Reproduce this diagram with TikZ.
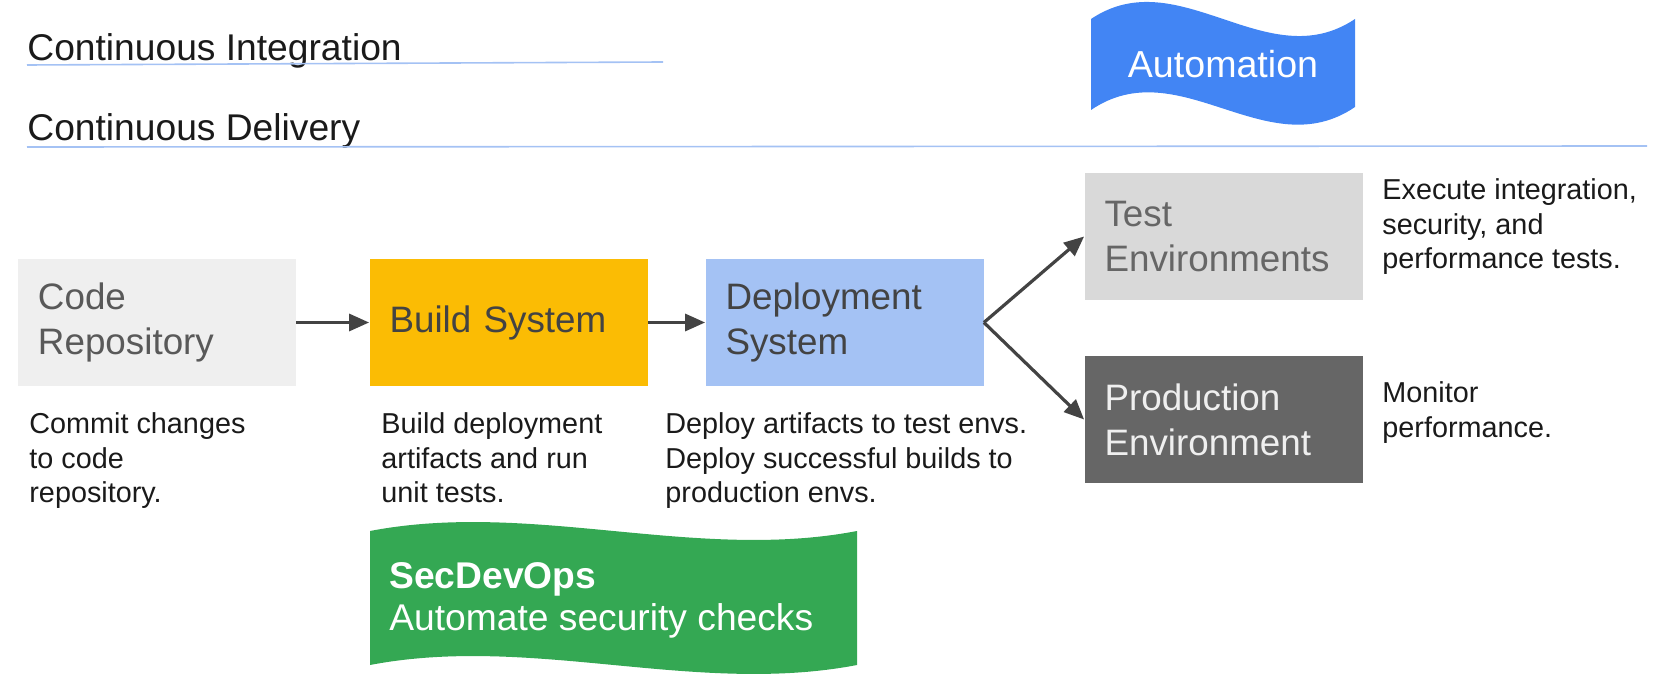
\documentclass[tikz,border=0pt]{standalone}
\usepackage{fontspec}
\setmainfont{Liberation Sans}
\usetikzlibrary{arrows.meta}

\definecolor{ruleblue}{HTML}{A4C2F4}
\definecolor{codegray}{HTML}{EFEFEF}
\definecolor{buildyellow}{HTML}{FBBC04}
\definecolor{deployblue}{HTML}{A4C2F4}
\definecolor{testgray}{HTML}{D9D9D9}
\definecolor{prodgray}{HTML}{666666}
\definecolor{autoblue}{HTML}{4285F4}
\definecolor{secgreen}{HTML}{34A853}
\definecolor{arrowgray}{HTML}{434343}
\definecolor{labelgray}{HTML}{595959}
\definecolor{inkblack}{HTML}{1A1A1A}

\tikzset{
  stage/.style = {rectangle, minimum width=139pt, minimum height=63.5pt, text width=119pt,
    inner xsep=10pt, align=left, font=\fontsize{18.4}{22.5}\selectfont},
  note/.style = {anchor=north west, inner sep=0pt, align=left, text=inkblack,
    font=\fontsize{14.4}{17.4}\selectfont},
  heading/.style = {anchor=base west, inner sep=0pt, text=inkblack, font=\fontsize{18.6}{22}\selectfont},
  flow/.style = {draw=arrowgray, line width=1.6pt, -{Triangle[length=10pt,width=8.5pt]}},
}

\begin{document}
\begin{tikzpicture}[x=0.5pt, y=-0.5pt]
    \useasboundingbox (0,0) rectangle (1677,679);

    % Headings
    \node[heading] (ci) at (27,61) {Continuous Integration};
    \node[heading] (cd) at (27,141) {Continuous Delivery};
    \draw[ruleblue, line width=0.8pt] (27,65) -- (663,62);
    \draw[ruleblue, line width=0.8pt] (27,147) -- (1647,146);

    % Banners
    \fill[autoblue] (1091,19) .. controls (1179,-40) and (1267,78) .. (1355,19)
        -- (1355,107) .. controls (1267,167) and (1179,50) .. (1091,110) -- cycle;
    \node[text=white, font=\fontsize{18.8}{22}\selectfont] (auto) at (1223,64) {Automation};

    \fill[secgreen] (370,531) .. controls (532,500) and (695,562) .. (857,531)
        -- (857,665) .. controls (695,696) and (532,634) .. (370,665) -- cycle;
    \node[anchor=north west, inner sep=0pt, align=left, text=white,
        font=\fontsize{18.6}{21}\selectfont] (sec) at (389,562)
        {\textbf{SecDevOps}\\Automate security checks};

    % Stages
    \node[stage, fill=codegray, text=labelgray] (code) at (157,322.5) {Code\\Repository};
    \node[stage, fill=buildyellow, text=arrowgray] (build) at (508.5,322.5) {Build System};
    \node[stage, fill=deployblue, text=arrowgray] (deploy) at (844.5,322.5) {Deployment\\System};
    \node[stage, fill=testgray, text=prodgray] (test) at (1223.5,236.5) {Test\\Environments};
    \node[stage, fill=prodgray, text=codegray] (prod) at (1223.5,419.5) {Production\\Environment};

    % Notes
    \node[note] (codenote) at (29,412) {Commit changes\\to code\\repository.};
    \node[note] (buildnote) at (381,412) {Build deployment\\artifacts and run\\unit tests.};
    \node[note] (deploynote) at (665,412) {Deploy artifacts to test envs.\\Deploy successful builds to\\production envs.};
    \node[note] (testnote) at (1382,178) {Execute integration,\\security, and\\performance tests.};
    \node[note] (prodnote) at (1382,381) {Monitor\\performance.};

    % Edges
    \foreach \a/\b in {code.east/build.west, build.east/deploy.west, deploy.east/test.west, deploy.east/prod.west}
        \draw[flow] (\a) -- (\b);
\end{tikzpicture}
\end{document}
